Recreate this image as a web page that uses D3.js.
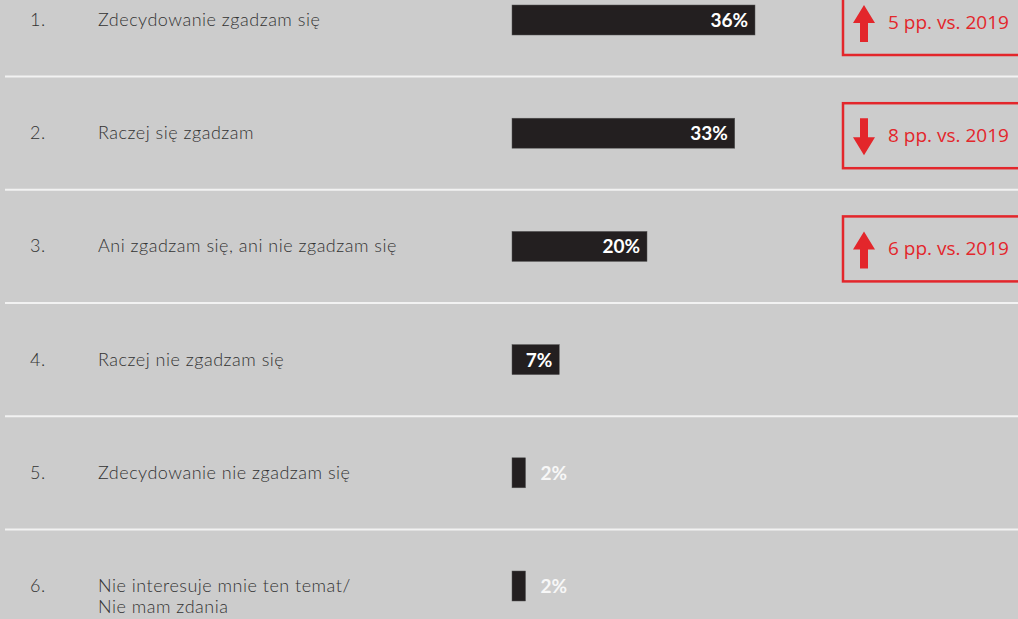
<!DOCTYPE html>
<html>
<head>
<meta charset="utf-8">
<script src="https://cdn.jsdelivr.net/npm/d3@7"></script>
<style>
  body { margin: 0; background: #cccccc; }
  svg { display: block; }
</style>
</head>
<body>
<div id="chart"></div>
<script>
const numbers = ['1.', '2.', '3.', '4.', '5.', '6.'];
const labels = [
  ['Zdecydowanie zgadzam się'],
  ['Raczej się zgadzam'],
  ['Ani zgadzam się, ani nie zgadzam się'],
  ['Raczej nie zgadzam się'],
  ['Zdecydowanie nie zgadzam się'],
  ['Nie interesuje mnie ten temat/', 'Nie mam zdania'],
];
const values = [36, 33, 20, 7, 2, 2];
// change in percentage points vs 2019 (null = no box)
const changes = [5, -8, 6, null, null, null];

const width = 1018;
const height = 619;
const barX = 512;
const barH = 30;
const red = '#e3262b';

const svg = d3.select('#chart')
  .append('svg')
  .attr('width', width)
  .attr('height', height);

svg.append('rect')
  .attr('width', width)
  .attr('height', height)
  .attr('fill', '#cccccc');

const yScale = d3.scalePoint()
  .domain(d3.range(values.length))
  .range([20, 586]);

const xScale = d3.scaleLinear()
  .domain([0, 100])
  .range([0, 675]);

const step = yScale.step();

// separators between rows
svg.selectAll('line.sep')
  .data(d3.range(values.length - 1))
  .enter()
  .append('line')
  .attr('class', 'sep')
  .attr('x1', 5)
  .attr('x2', width)
  .attr('y1', (d) => yScale(d) + step / 2)
  .attr('y2', (d) => yScale(d) + step / 2)
  .attr('stroke', '#f2f2f2')
  .attr('stroke-width', 2);

const rows = svg.selectAll('g.row')
  .data(values)
  .enter()
  .append('g')
  .attr('class', 'row')
  .attr('transform', (d, i) => `translate(0, ${yScale(i)})`);

rows.append('text')
  .attr('x', 30)
  .attr('y', 6)
  .attr('font-family', 'Lato, sans-serif')
  .attr('font-weight', 300)
  .attr('font-size', 18)
  .attr('letter-spacing', 0.5)
  .attr('fill', '#333333')
  .text((d, i) => numbers[i]);

rows.each(function (d, i) {
  const t = d3.select(this).append('text')
    .attr('font-family', 'Lato, sans-serif')
    .attr('font-weight', 300)
    .attr('font-size', 18)
    .attr('letter-spacing', 0.5)
    .attr('fill', '#333333');
  labels[i].forEach((line, j) => {
    t.append('tspan')
      .attr('x', 98)
      .attr('y', 6 + j * 21)
      .text(line);
  });
});

rows.append('rect')
  .attr('x', barX)
  .attr('y', -barH / 2)
  .attr('width', (d) => xScale(d))
  .attr('height', barH)
  .attr('fill', '#231f20')
  .attr('stroke', '#555')
  .attr('stroke-width', 0.5);

rows.append('text')
  .attr('x', (d) => (xScale(d) > 30 ? barX + xScale(d) - 7 : barX + xScale(d) + 15))
  .attr('y', 7)
  .attr('text-anchor', (d) => (xScale(d) > 30 ? 'end' : 'start'))
  .attr('font-family', 'Lato, sans-serif')
  .attr('font-weight', 'bold')
  .attr('font-size', 19)
  .attr('fill', (d) => (xScale(d) > 30 ? '#ffffff' : '#f7f7f7'))
  .text((d) => `${d}%`);

// change boxes
const arrowUp = 'M0,-18 L11,0 L4,0 L4,19 L-4,19 L-4,0 L-11,0 Z';
const arrowDown = 'M0,19 L11,1 L4,1 L4,-18 L-4,-18 L-4,1 L-11,1 Z';

rows.each(function (d, i) {
  const c = changes[i];
  if (c === null) return;
  const g = d3.select(this);
  g.append('rect')
    .attr('x', 843)
    .attr('y', -30)
    .attr('width', 190)
    .attr('height', 65)
    .attr('fill', 'none')
    .attr('stroke', red)
    .attr('stroke-width', 2.5);
  g.append('path')
    .attr('transform', 'translate(864, 3)')
    .attr('d', c > 0 ? arrowUp : arrowDown)
    .attr('fill', red);
  g.append('text')
    .attr('x', 888)
    .attr('y', 9)
    .attr('font-family', '"Open Sans", sans-serif')
    .attr('font-size', 19)
    .attr('fill', red)
    .text(`${Math.abs(c)} pp. vs. 2019`);
});
</script>
</body>
</html>
